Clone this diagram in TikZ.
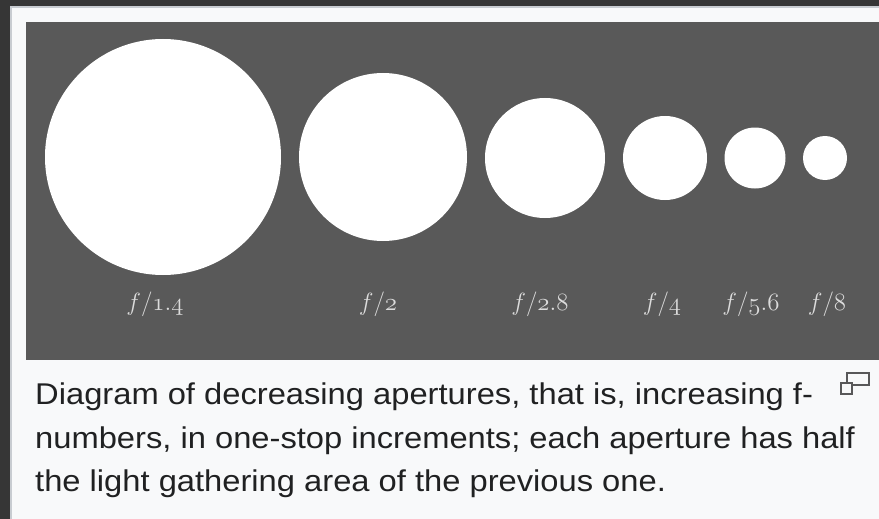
\documentclass[tikz,border=0pt]{standalone}
\usepackage{amsmath, amssymb}
\usepackage{xcolor}
\usepackage{fontspec}
\setsansfont[FakeStretch=1.09]{Liberation Sans}
\usepackage{tikz}

\definecolor{pagedark}{HTML}{363636}
\definecolor{panelgray}{HTML}{595959}
\definecolor{framegray}{HTML}{C8CCD1}
\definecolor{captionbg}{HTML}{F8F9FA}
\definecolor{captiontext}{HTML}{202122}
\definecolor{labelgray}{HTML}{DCDCDC}

\newcommand{\osn}[1]{\mathnormal{#1}}

\tikzset{
  aperture/.style={circle, fill=white, inner sep=0pt, minimum size=#1},
  fnum/.style={text=labelgray, font=\fontsize{25}{28}\selectfont, inner sep=0pt},
  captionline/.style={text=captiontext, anchor=base west, inner sep=0pt,
    font=\sffamily\fontsize{30}{36}\selectfont}
}

\begin{document}
\begin{tikzpicture}[x=1pt, y=-1pt]
  \useasboundingbox (0,0) rectangle (879,519);
  \fill[pagedark] (0,0) rectangle (879,519);
  %% thumbnail frame and dark panel
  \filldraw[fill=captionbg, draw=framegray, line width=1.5pt] (11,7) rectangle (885,525);
  \fill[panelgray] (26,22) rectangle (879,360);
  %% apertures, one stop apart
  \node[aperture=236pt] (a14) at (163,157) {};
  \node[aperture=168pt] (a2) at (383,157) {};
  \node[aperture=120pt] (a28) at (545,158) {};
  \node[aperture=84pt] (a4) at (665,158) {};
  \node[aperture=61pt] (a56) at (755,158) {};
  \node[aperture=44pt] (a8) at (825,158) {};
  %% f-numbers under the disks
  \node[fnum] (l14) at (155,304) {$f/\osn{1}.\osn{4}$};
  \node[fnum] (l2) at (378,304) {$f/\osn{2}$};
  \node[fnum] (l28) at (540,304) {$f/\osn{2}.\osn{8}$};
  \node[fnum] (l4) at (662,304) {$f/\osn{4}$};
  \node[fnum] (l56) at (751,304) {$f/\osn{5}.\osn{6}$};
  \node[fnum] (l8) at (827,304) {$f/\osn{8}$};
  %% caption
  \node[captionline] (cap1) at (35,404) {Diagram of decreasing apertures, that is, increasing f-};
  \node[captionline] (cap2) at (35,448) {numbers, in one-stop increments; each aperture has half};
  \node[captionline] (cap3) at (35,491) {the light gathering area of the previous one.};
  %% enlarge icon
  \draw[captiontext!75, line width=1.6pt] (847,373) rectangle (869,385);
  \fill[captionbg] (841,383) rectangle (852,394);
  \draw[captiontext!75, line width=1.6pt] (841,383) rectangle (852,394);
\end{tikzpicture}
\end{document}
